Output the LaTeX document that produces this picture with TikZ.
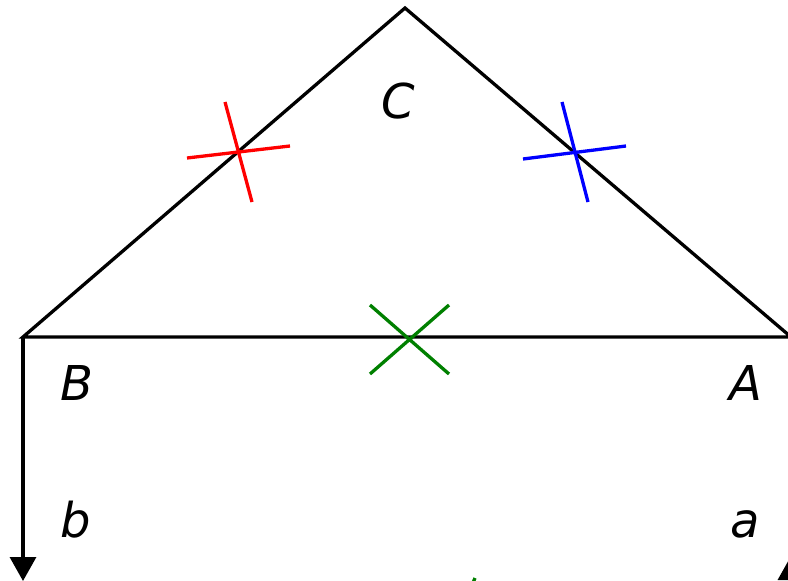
\documentclass[tikz,border=0pt]{standalone}
\usepackage{fontspec}
\setmainfont{DejaVu Sans}
\usetikzlibrary{arrows.meta}

\tikzset{
  side/.style={line width=3.3pt, line join=miter},
  tick/.style={line width=3.3pt},
  lbl/.style={anchor=base, inner sep=0pt, font=\fontsize{48}{50}\selectfont\itshape},
  arr/.style={line width=3.3pt, -{Triangle[length=24pt,width=26pt]}},
}
\definecolor{mkgreen}{RGB}{0,128,0}

\begin{document}
\begin{tikzpicture}[x=1pt,y=-1pt]
  \useasboundingbox (0,0) rectangle (788,581);
  \clip (0,0) rectangle (788,581);
  % corners
  \coordinate (C) at (405,8);
  \coordinate (B) at (23,337);
  \coordinate (A) at (791,337);
  \coordinate (bend) at (23,581);
  \coordinate (afrom) at (791,640);
  \coordinate (aend) at (791,556);
  % triangle and arrows
  \draw[side] (B) -- (C) -- (A) -- cycle;
  \draw[arr] (B) -- (bend);
  \draw[arr] (afrom) -- (aend);
  % ticks
  \draw[tick, red] (187,158) -- (290,146) (225,102) -- (252,202);
  \draw[tick, blue] (523,159) -- (626,146) (562,102) -- (588,202);
  \draw[tick, mkgreen] (370,305) -- (449,374) (370,374) -- (449,305);
  \draw[tick, mkgreen] (475,578) -- (470,590);
  % labels
  \node[lbl] (lC) at (398,118) {C};
  \node[lbl] (lB) at (77,400) {B};
  \node[lbl] (lA) at (746,400) {A};
  \node[lbl] (lb) at (76,537) {b};
  \node[lbl] (la) at (745,537) {a};
\end{tikzpicture}
\end{document}
